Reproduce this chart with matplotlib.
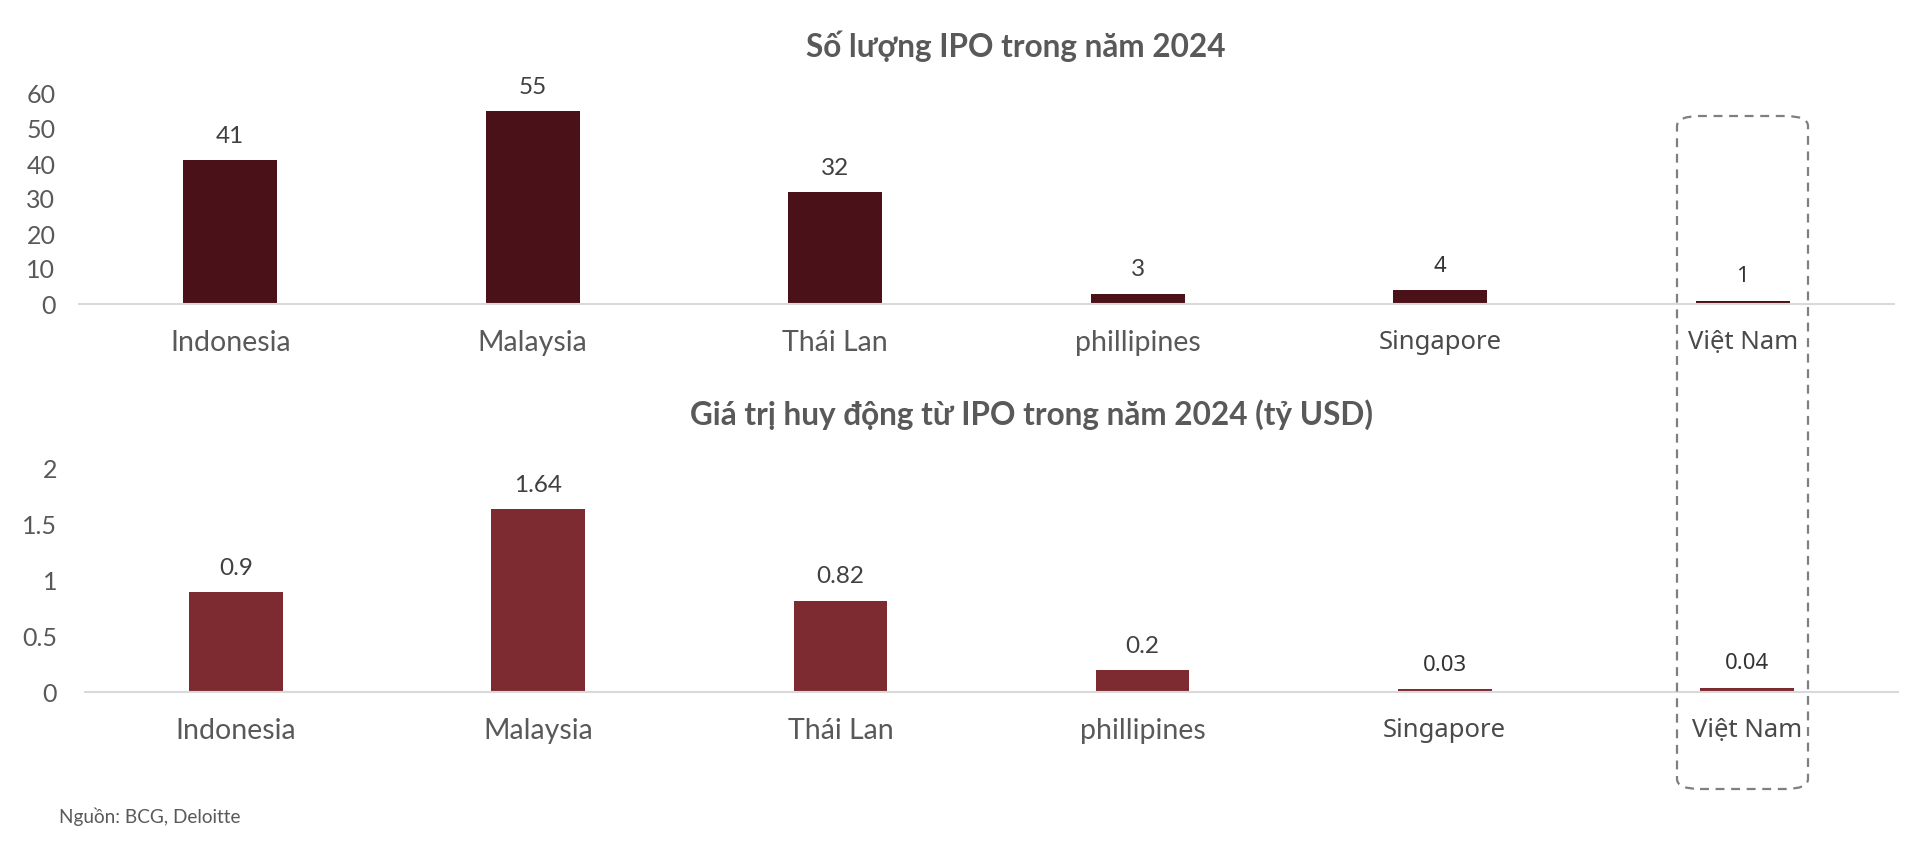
import matplotlib
matplotlib.use("Agg")
import matplotlib.pyplot as plt
from matplotlib.patches import FancyBboxPatch

countries = ["Indonesia", "Malaysia", "Thái Lan", "phillipines", "Singapore", "Việt Nam"]
ipo_count = [41, 55, 32, 3, 4, 1]
ipo_value = [0.9, 1.64, 0.82, 0.2, 0.03, 0.04]
count_labels = ["41", "55", "32", "3", "4", "1"]
value_labels = ["0.9", "1.64", "0.82", "0.2", "0.03", "0.04"]
count_ticks = [0, 10, 20, 30, 40, 50, 60]
value_ticks = [0, 0.5, 1, 1.5, 2]
value_tick_labels = ["0", "0.5", "1", "1.5", "2"]
title_top = "Số lượng IPO trong năm 2024"
title_bottom = "Giá trị huy động từ IPO trong năm 2024 (tỷ USD)"
source = "Nguồn: BCG, Deloitte"

TXT = "#595959"
MAIN = "Lato"
ALT = "Noto Sans"
alt_idx = {4, 5}

W, H = 1920, 842
fig = plt.figure(figsize=(W / 100, H / 100), dpi=100)

def setup(ax, values, labels, color, ticks, ticklabels, ylim, title, title_xy, ypad):
    x = list(range(len(countries)))
    ax.bar(x, values, width=0.31, color=color, zorder=2)
    ax.set_xlim(-0.5, len(countries) - 0.5)
    ax.set_ylim(*ylim)
    for s in ["top", "right", "left"]:
        ax.spines[s].set_visible(False)
    ax.spines["bottom"].set_color("#D9D9D9")
    ax.spines["bottom"].set_linewidth(1.5)
    ax.set_yticks(ticks)
    ax.set_yticklabels(ticklabels, fontsize=18, color=TXT, family=MAIN)
    ax.tick_params(axis="y", length=0, pad=ypad)
    ax.tick_params(axis="x", length=0, pad=19)
    ax.set_xticks(x)
    ax.set_xticklabels(countries, fontsize=20.5, color=TXT)
    for i, t in enumerate(ax.get_xticklabels()):
        t.set_family(ALT if i in alt_idx else MAIN)
        if i in alt_idx:
            t.set_fontsize(18.5)
            t.set_color("#4A4A4A")
    for i, (v, lab) in enumerate(zip(values, labels)):
        ax.annotate(lab, (i, v), xytext=(0, 17), textcoords="offset points",
                    ha="center", va="center", fontsize=17.5 if i not in alt_idx else 16,
                    color="#404040" if i not in alt_idx else "#333333",
                    family=ALT if i in alt_idx else MAIN)
    fig.text(title_xy[0], title_xy[1], title,
             ha="center", va="center", fontsize=22.7, fontweight="bold", color=TXT, family=MAIN)

ax1 = fig.add_axes([79 / W, 1 - 304 / H, (1894 - 79) / W, (304 - 94) / H])
setup(ax1, ipo_count, count_labels, "#4A1218", count_ticks, [str(t) for t in count_ticks],
      (0, 60), title_top, (1016 / W, 1 - 46 / H), 17)

ax2 = fig.add_axes([85 / W, 1 - 692 / H, (1898 - 85) / W, (692 - 469) / H])
setup(ax2, ipo_value, value_labels, "#7E2A31", value_ticks, value_tick_labels,
      (0, 2), title_bottom, (1031 / W, 1 - 415 / H), 20)

box = FancyBboxPatch((1677 / W, 1 - 789 / H), (1808 - 1677) / W, (789 - 116) / H,
                     boxstyle="round,pad=0,rounding_size=0.012",
                     transform=fig.transFigure, fill=False, edgecolor="#7F7F7F",
                     linestyle=(0, (4, 3)), linewidth=1.6, zorder=5)
fig.patches.append(box)

fig.text(59 / W, 1 - 817 / H, source, ha="left", va="center", fontsize=13.7,
         color=TXT, family=MAIN)

fig.savefig("out.png", dpi=100, facecolor="white")
